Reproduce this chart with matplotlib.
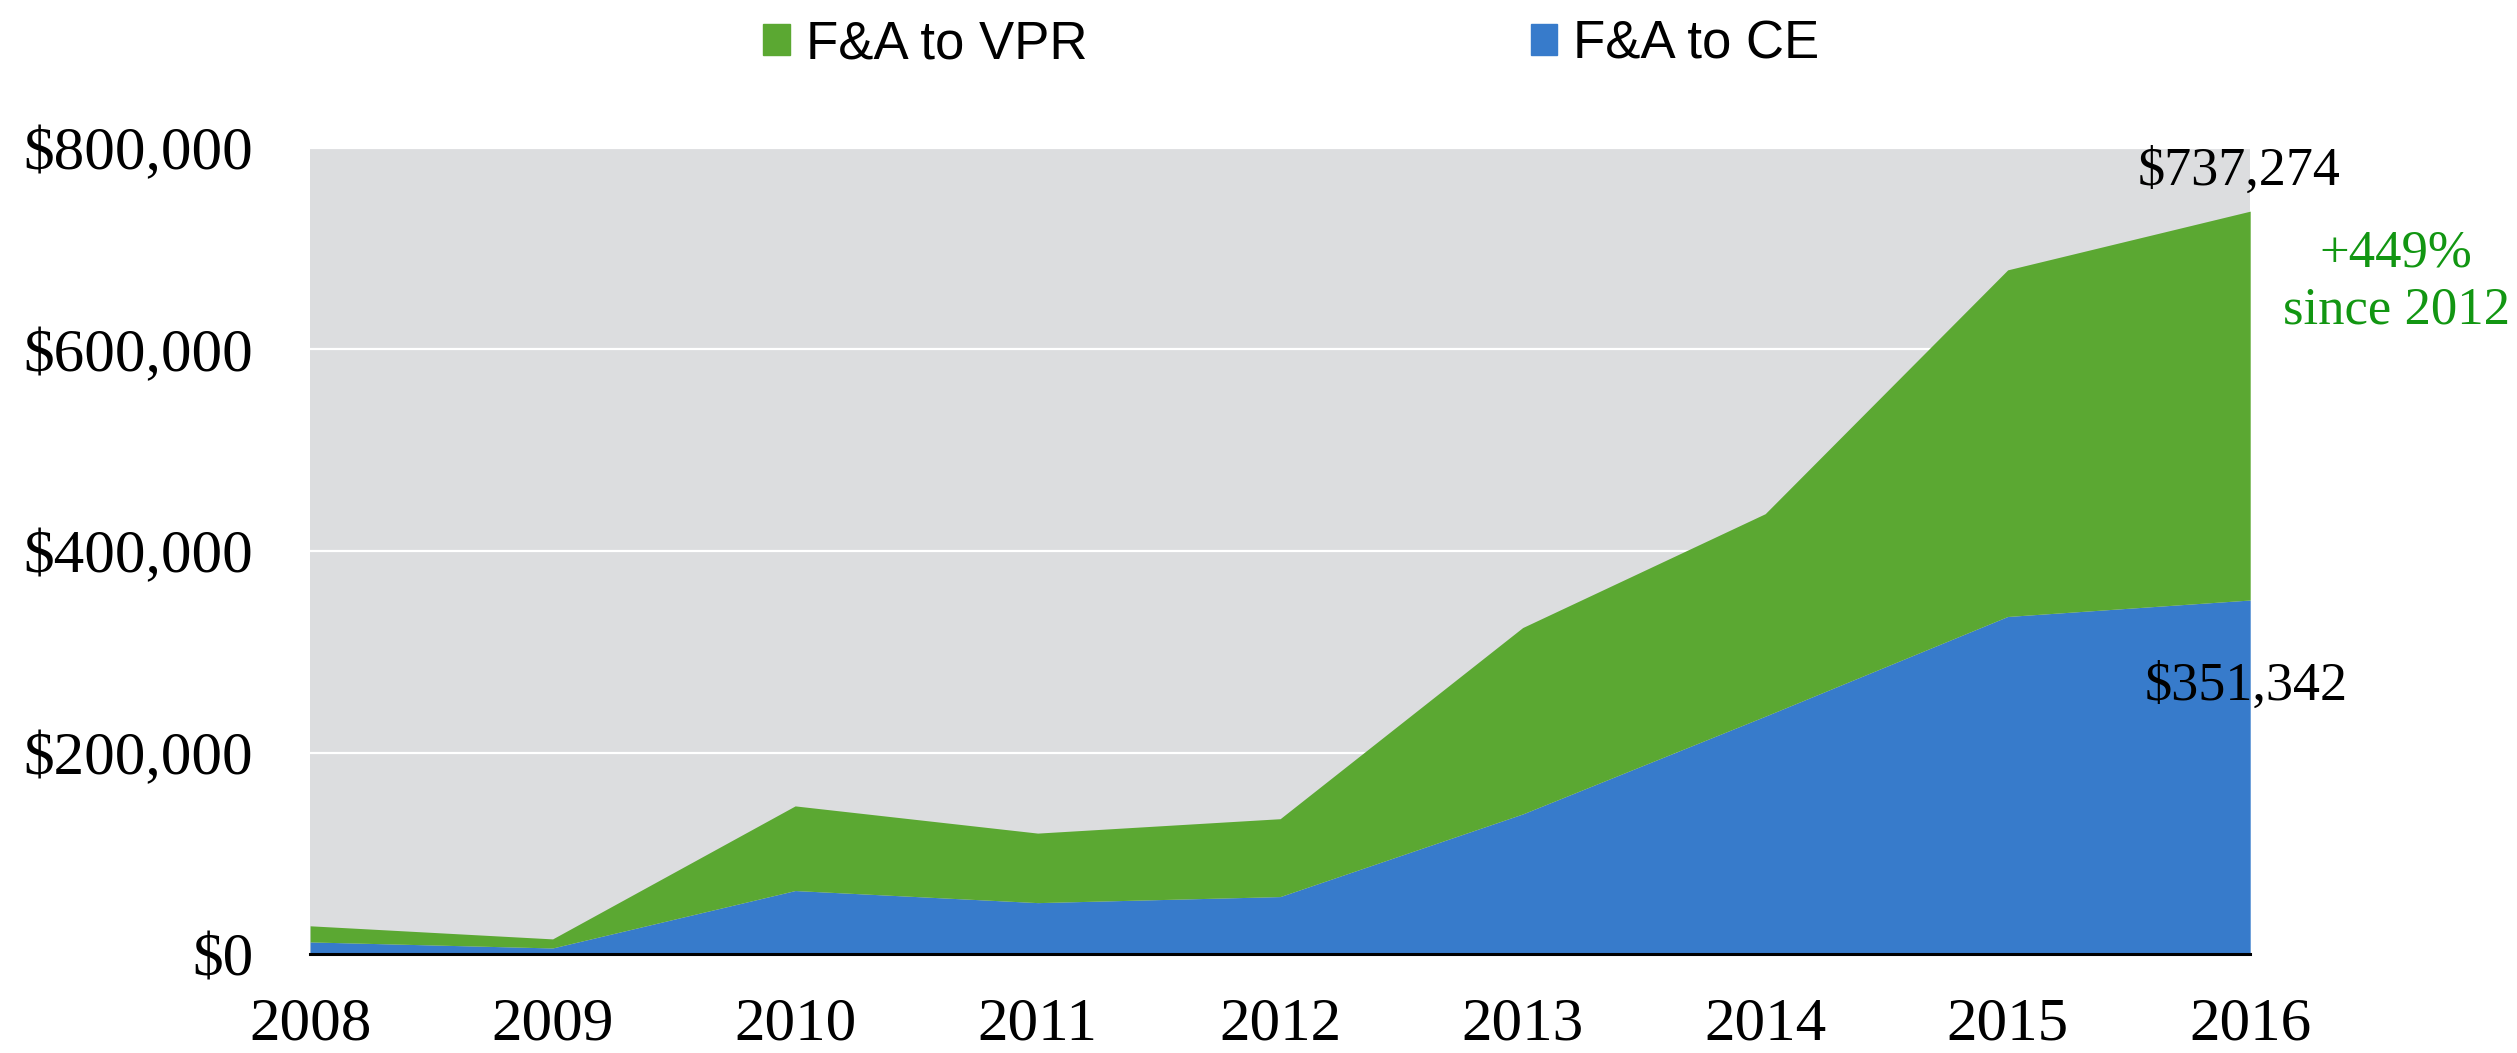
"""Stacked area chart of F&A returns to VPR and CE, 2008-2016."""

import matplotlib.pyplot as plt
from matplotlib.patches import Patch
from matplotlib.ticker import FuncFormatter

YEARS = [2008, 2009, 2010, 2011, 2012, 2013, 2014, 2015, 2016]
# F&A to CE (bottom layer) and the stacked total (CE + VPR)
CE = [12000, 6000, 63000, 51000, 57000, 139000, 236000, 335000, 351342]
TOTAL = [28000, 15000, 147000, 120000, 134300, 324000, 437000, 679000, 737274]
Y_TICKS = [0, 200000, 400000, 600000, 800000]
SERIES_LABELS = ["F&A to VPR", "F&A to CE"]
GROWTH_NOTE = "+449%\nsince 2012"

GREEN = "#5ba832"
BLUE = "#377bcb"
BG = "#dcdddf"
NOTE_GREEN = "#129612"
SERIF = "Liberation Serif"
SANS = "Liberation Sans"


def main() -> None:
    fig = plt.figure(figsize=(25.17, 10.53), dpi=100)
    ax = fig.add_axes([0.1232, 0.094, 0.7708, 0.7655])
    ax.set_facecolor(BG)

    ax.fill_between(YEARS, 0, CE, color=BLUE, linewidth=0, zorder=2)
    ax.fill_between(YEARS, CE, TOTAL, color=GREEN, linewidth=0, zorder=2)

    ax.set_xlim(YEARS[0], YEARS[-1])
    ax.set_ylim(0, Y_TICKS[-1])
    ax.set_xticks(YEARS)
    ax.set_yticks(Y_TICKS)
    ax.yaxis.set_major_formatter(FuncFormatter(lambda v, _: f"${v:,.0f}"))
    ax.grid(axis="y", color="white", linewidth=1.6, zorder=1)
    ax.set_axisbelow(True)
    ax.tick_params(length=0, labelsize=44)
    ax.tick_params(axis="y", pad=41)
    ax.tick_params(axis="x", pad=31)
    for label in ax.get_xticklabels() + ax.get_yticklabels():
        label.set_family(SERIF)

    for side in ["top", "right", "left"]:
        ax.spines[side].set_visible(False)
    ax.spines["bottom"].set_linewidth(2.2)
    ax.spines["bottom"].set_color("black")
    ax.spines["bottom"].set_zorder(3)

    # end-of-series value labels
    ax.annotate(f"${TOTAL[-1]:,}", (YEARS[-1], TOTAL[-1]), xytext=(-8, 10),
                textcoords="offset points", ha="center", va="bottom",
                fontsize=39, family=SERIF, annotation_clip=False)
    ax.annotate(f"${CE[-1]:,}", (YEARS[-1], CE[-1]), xytext=(-3, -44),
                textcoords="offset points", ha="center", va="top",
                fontsize=39, family=SERIF, annotation_clip=False)
    ax.annotate(GROWTH_NOTE, (YEARS[-1], TOTAL[-1]), xytext=(105, -51),
                textcoords="offset points", ha="center", va="center",
                fontsize=38, family=SERIF, color=NOTE_GREEN,
                linespacing=1.22, annotation_clip=False)

    handles = [Patch(color=GREEN), Patch(color=BLUE)]
    fig.legend(handles, SERIES_LABELS, loc="center", ncol=2,
               bbox_to_anchor=(0.513, 0.958), frameon=False,
               prop={"family": SANS, "size": 38},
               handlelength=0.5, handleheight=0.5, handletextpad=0.3,
               columnspacing=8.4)

    fig.savefig("out.png", dpi=100)


if __name__ == "__main__":
    main()
